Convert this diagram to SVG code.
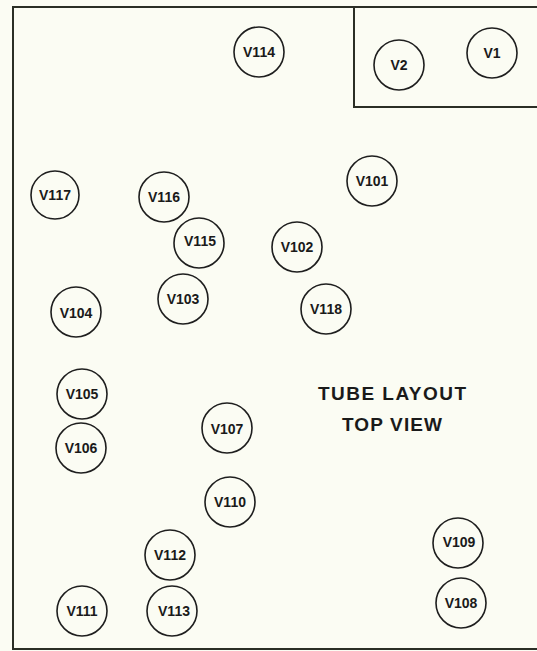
<svg xmlns="http://www.w3.org/2000/svg" width="537" height="651" viewBox="0 0 537 651">
<style>
.bg{fill:#fbfcf3}
.frame{fill:none;stroke:#2b2e25;stroke-width:2}
.tube circle{fill:#fbfcf3;stroke:#1e1e1e;stroke-width:1.6}
.tube text{font-family:"Liberation Sans",Arial,sans-serif;font-weight:bold;font-size:14px;fill:#1a1a1a;text-anchor:middle}
.title{font-family:"Liberation Sans",Arial,sans-serif;font-weight:bold;font-size:19px;fill:#1a1a1a;text-anchor:middle}
</style>
<rect class="bg" x="0" y="0" width="537" height="651"/>
<g id="frame">
<polyline class="frame" points="537,7 13,7 13,649 537,649"/>
<polyline class="frame" points="537,107 354,107 354,7"/>
</g>
<g id="connectors"></g>
<g id="V114" class="tube"><circle cx="259" cy="52" r="25"/><text x="259" y="57">V114</text></g>
<g id="V2" class="tube"><circle cx="399" cy="65" r="25"/><text x="399" y="70">V2</text></g>
<g id="V1" class="tube"><circle cx="492" cy="53" r="25"/><text x="492" y="58">V1</text></g>
<g id="V117" class="tube"><circle cx="55" cy="195" r="24"/><text x="55" y="200">V117</text></g>
<g id="V116" class="tube"><circle cx="164" cy="197" r="25"/><text x="164" y="202">V116</text></g>
<g id="V101" class="tube"><circle cx="372" cy="181" r="25"/><text x="372" y="186">V101</text></g>
<g id="V115" class="tube"><circle cx="199" cy="243" r="25"/><text x="200" y="246">V115</text></g>
<g id="V102" class="tube"><circle cx="297" cy="247" r="25"/><text x="297" y="252">V102</text></g>
<g id="V103" class="tube"><circle cx="183" cy="299" r="25"/><text x="183" y="304">V103</text></g>
<g id="V104" class="tube"><circle cx="76" cy="312" r="25"/><text x="76" y="318">V104</text></g>
<g id="V118" class="tube"><circle cx="326" cy="309" r="25"/><text x="326" y="314">V118</text></g>
<g id="V105" class="tube"><circle cx="82" cy="394" r="25"/><text x="82" y="399">V105</text></g>
<g id="V107" class="tube"><circle cx="227" cy="428" r="25"/><text x="227" y="434">V107</text></g>
<g id="V106" class="tube"><circle cx="81" cy="448" r="25"/><text x="81" y="453">V106</text></g>
<g id="V110" class="tube"><circle cx="230" cy="502" r="25"/><text x="230" y="507">V110</text></g>
<g id="V109" class="tube"><circle cx="458" cy="543" r="25"/><text x="459" y="547">V109</text></g>
<g id="V112" class="tube"><circle cx="170" cy="555" r="25"/><text x="170" y="560">V112</text></g>
<g id="V111" class="tube"><circle cx="82" cy="611" r="25"/><text x="82" y="616">V111</text></g>
<g id="V113" class="tube"><circle cx="172" cy="611" r="25"/><text x="174" y="616">V113</text></g>
<g id="V108" class="tube"><circle cx="461" cy="603" r="25"/><text x="461" y="608">V108</text></g>
<g id="title">
<text class="title" x="392" y="400" textLength="148" lengthAdjust="spacing">TUBE LAYOUT</text>
<text class="title" x="392" y="431" textLength="100" lengthAdjust="spacing">TOP VIEW</text>
</g>
</svg>
